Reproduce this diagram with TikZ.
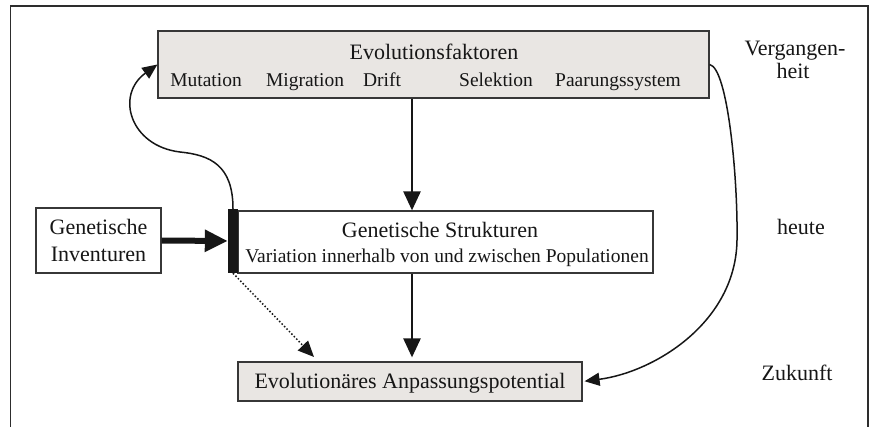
\documentclass[tikz,border=0pt]{standalone}
\usepackage{fontspec}
\setmainfont{Liberation Serif}
\usetikzlibrary{arrows.meta,calc}
\definecolor{boxgray}{RGB}{233,230,227}
\definecolor{ink}{RGB}{22,22,22}
\definecolor{boxline}{RGB}{55,55,55}
\definecolor{framecol}{RGB}{45,45,45}
\begin{document}
\begin{tikzpicture}[x=1pt,y=-1pt,
  gbox/.style={draw=boxline, fill=boxgray, line width=1.2pt, inner sep=0pt},
  wbox/.style={draw=boxline, fill=white, line width=1.2pt, inner sep=0pt},
  bigtxt/.style={font=\fontsize{22}{26}\selectfont, text=ink, inner sep=0pt, anchor=base},
  smalltxt/.style={font=\fontsize{19.5}{24}\selectfont, text=ink, inner sep=0pt, anchor=base},
  varrow/.style={draw=ink, line width=2.5pt, -{Triangle[length=19pt,width=17pt]}},
  thickarrow/.style={draw=ink, line width=6pt, -{Triangle[length=23pt,width=21pt]}},
  curvearrow/.style={draw=ink, line width=1.5pt, -{Triangle[length=15pt,width=13pt]}},
  dotarrow/.style={draw=ink, line width=1.5pt, dotted, -{Triangle[length=16pt,width=14pt]}}
]
\useasboundingbox (0,0) rectangle (872,427);
% frame (open at the bottom)
\draw[framecol, line width=1.3pt] (10.5,427) -- (10.5,6) -- (868,6) -- (868,427);

% boxes
\node[gbox, minimum width=551pt, minimum height=67pt] (evf) at (433.5,64.5) {};
\node[wbox, minimum width=125pt, minimum height=65pt] (inv) at (98.5,240.5) {};
\node[wbox, minimum width=415pt, minimum height=62pt] (gs) at (445.5,242) {};
\node[fill=ink, draw=none, minimum width=10pt, minimum height=64pt, inner sep=0pt] (bar) at (233,241) {};
\node[gbox, minimum width=344pt, minimum height=39pt] (eap) at (410,381.5) {};

% texts in boxes
\node[bigtxt] (evft) at (434,60) {Evolutionsfaktoren};
\node[smalltxt] (mut) at (206,87) {Mutation};
\node[smalltxt] (mig) at (305,87) {Migration};
\node[smalltxt] (dri) at (382,87) {Drift};
\node[smalltxt] (sel) at (496,87) {Selektion};
\node[smalltxt] (paa) at (618,87) {Paarungssystem};

\node[bigtxt] (inv1) at (98.5,235) {Genetische};
\node[bigtxt] (inv2) at (98.5,262) {Inventuren};

\node[bigtxt] (gst) at (440,238) {Genetische Strukturen};
\node[smalltxt] (gss) at (447,263) {Variation innerhalb von und zwischen Populationen};

\node[bigtxt] (eapt) at (410,388) {Evolutionäres Anpassungspotential};

% time labels
\node[bigtxt] (verg) at (795,56) {Vergangen-};
\node[bigtxt] (heit) at (793,79) {heit};
\node[bigtxt] (heute) at (801,235) {heute};
\node[bigtxt] (zuk) at (797,380) {Zukunft};

% connectors
\coordinate (ax) at (412,0);
\coordinate (dt) at (314,357);
\draw[varrow] (evf.south -| ax) -- (gs.north -| ax);
\draw[varrow, shorten >=4pt] (gs.south -| ax) -- (eap.north -| ax);
\draw[thickarrow] (inv.east) -- (bar.west);
\draw[dotarrow] (bar.south) -- (dt);
\draw[curvearrow] (bar.north) .. controls (233,165) and (210,155) .. (180,152)
   .. controls (130,146) and (115,95) .. (evf.west);
\draw[curvearrow, shorten >=2pt] (evf.east) .. controls (728,68) and (738,180) .. (737,240)
   .. controls (736,322) and (655,372) .. (eap.east);
\end{tikzpicture}
\end{document}
